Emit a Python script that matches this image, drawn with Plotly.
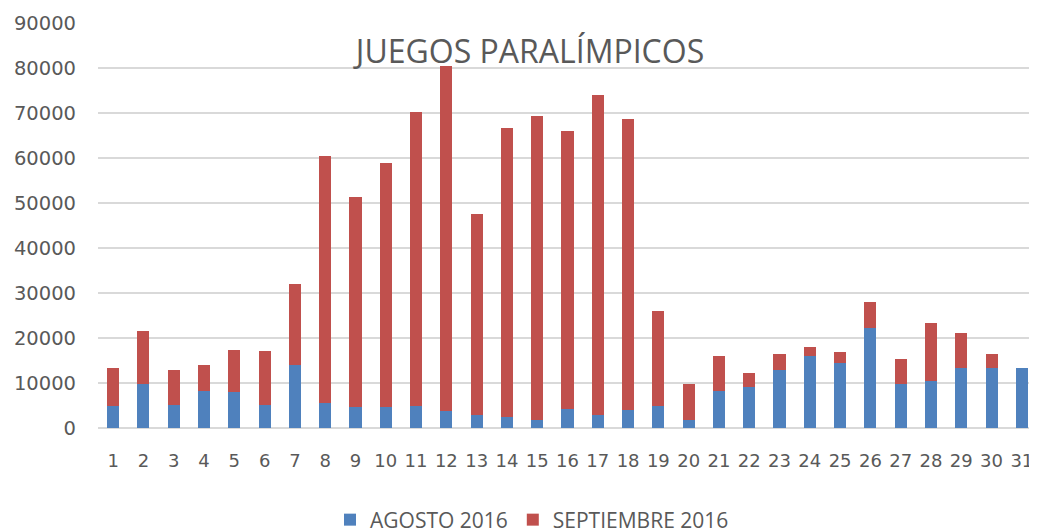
import plotly.graph_objects as go

days = [str(d) for d in range(1, 32)]
agosto = [4900, 9700, 5100, 8300, 8000, 5100, 13900, 5500, 4600, 4600,
          4900, 3800, 2900, 2400, 1800, 4300, 2900, 4100, 4900, 1800,
          8300, 9100, 12800, 15900, 14500, 22200, 9700, 10500, 13400, 13400, 13400]
totales = [13300, 21600, 12800, 13900, 17400, 17100, 32100, 60400, 51400, 58900,
           70300, 80500, 47500, 66600, 69400, 66000, 73900, 68600, 25900, 9700,
           15900, 12200, 16500, 17900, 16800, 27900, 15300, 23300, 21100, 16500, 13400]
septiembre = [t - a for t, a in zip(totales, agosto)]

BLUE = "#4F81BD"
RED = "#C0504D"
GREY = "#595959"

W, H = 1029, 524

fig = go.Figure()
fig.add_bar(x=days, y=agosto, name="AGOSTO 2016", marker_color=BLUE, marker_line_width=0)
fig.add_bar(x=days, y=septiembre, name="SEPTIEMBRE 2016", marker_color=RED, marker_line_width=0)

fig.update_layout(
    barmode="stack",
    bargap=0.6,
    width=W, height=H,
    margin=dict(l=90, r=0, t=15, b=104),
    plot_bgcolor="white", paper_bgcolor="white",
    font=dict(family="DejaVu Sans", color=GREY),
    title=dict(text="JUEGOS PARALÍMPICOS", x=522 / W, y=1 - 44 / H, xref="container", yref="container",
               xanchor="center", yanchor="middle",
               font=dict(family="Open Sans", size=32, color=GREY)),
    legend=dict(orientation="h", x=322 / W, y=1 - 512 / H, xref="container", yref="container",
                xanchor="left", yanchor="middle", font=dict(family="Open Sans", size=21, color=GREY),
                traceorder="normal", itemwidth=30),
    showlegend=True,
)
fig.update_xaxes(type="category", showgrid=False, showline=False, ticks="",
                 tickfont=dict(size=18, color=GREY), ticklabelstandoff=20)
fig.update_yaxes(range=[0, 90000], dtick=10000, showgrid=True, gridcolor="#D9D9D9", gridwidth=1.5,
                 zeroline=True, zerolinecolor="#D9D9D9", zerolinewidth=1.5, showline=False,
                 tickfont=dict(size=19.5, color=GREY), ticklabelstandoff=21, tickformat="d")

fig.write_html("out.html")
